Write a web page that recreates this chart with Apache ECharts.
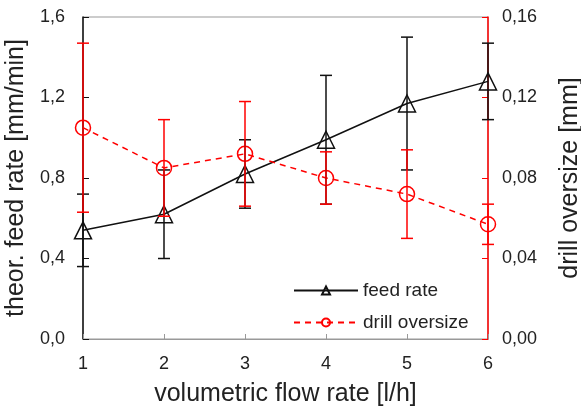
<!DOCTYPE html>
<html>
<head>
  <meta charset="utf-8">
</head>
<body style="margin: 0">
  <div id="container" style="width: 581px; height: 410px"></div>
  <script src="https://fastly.jsdelivr.net/npm/echarts@6.0.0/dist/echarts.min.js"></script>
  <script>
    // volumetric flow rate [l/h]
    var flowRates = [1, 2, 3, 4, 5, 6];
    // theor. feed rate [mm/min] and its error
    var feedRate = [0.54, 0.62, 0.82, 0.99, 1.17, 1.28];
    var feedErr = [0.18, 0.22, 0.17, 0.32, 0.33, 0.19];
    // drill oversize [mm] and its error
    var oversize = [0.105, 0.085, 0.092, 0.080, 0.072, 0.057];
    var oversizeErr = [0.042, 0.024, 0.026, 0.013, 0.022, 0.010];

    var font = 'Liberation Sans, Arial, sans-serif';

    function pairs(ys) {
      return flowRates.map(function (x, i) { return [x, ys[i]]; });
    }
    function errData(ys, errs) {
      return flowRates.map(function (x, i) { return [x, ys[i] - errs[i], ys[i] + errs[i]]; });
    }
    function errRender(color) {
      return function (params, api) {
        var lo = api.coord([api.value(0), api.value(1)]);
        var hi = api.coord([api.value(0), api.value(2)]);
        var w = 6;
        var style = { stroke: color, lineWidth: 1.5 };
        return {
          type: 'group',
          children: [
            { type: 'line', shape: { x1: lo[0], y1: lo[1], x2: hi[0], y2: hi[1] }, style: style },
            { type: 'line', shape: { x1: lo[0] - w, y1: lo[1], x2: lo[0] + w, y2: lo[1] }, style: style },
            { type: 'line', shape: { x1: hi[0] - w, y1: hi[1], x2: hi[0] + w, y2: hi[1] }, style: style }
          ]
        };
      };
    }

    var chart = echarts.init(document.getElementById('container'), null, { renderer: 'canvas' });

    var option = {
      animation: false,
      backgroundColor: '#fff',
      textStyle: { fontFamily: font },
      grid: {
        left: 83, right: 93, top: 17, bottom: 71,
        outerBoundsMode: 'none', containLabel: false,
        show: true, borderColor: '#999', borderWidth: 1
      },
      legend: {
        orient: 'vertical',
        left: 288, top: 276,
        itemWidth: 64, itemHeight: 10, itemGap: 13,
        textStyle: { fontSize: 19, color: '#222', fontFamily: font },
        data: ['feed rate', 'drill oversize']
      },
      xAxis: {
        type: 'value', min: 1, max: 6, interval: 1,
        name: 'volumetric flow rate [l/h]', nameLocation: 'middle', nameGap: 43,
        nameTextStyle: { fontSize: 25, color: '#222' },
        axisLine: { lineStyle: { color: '#999' } },
        axisTick: { inside: true, length: 5, lineStyle: { color: '#999' } },
        axisLabel: { fontSize: 18, color: '#222', margin: 16 },
        splitLine: { show: false }
      },
      yAxis: [
        {
          type: 'value', min: 0, max: 1.6, interval: 0.4,
          name: 'theor. feed rate [mm/min]', nameLocation: 'middle', nameGap: 45,
          nameTextStyle: { fontSize: 25, color: '#222' },
          axisLine: { show: true, onZero: false, lineStyle: { color: '#111', width: 1.5 } },
          axisTick: { inside: true, length: 6, lineStyle: { color: '#111' } },
          axisLabel: { fontSize: 18, color: '#222', margin: 18, formatter: function (v) { return v.toFixed(1).replace('.', ','); } },
          splitLine: { show: false }
        },
        {
          type: 'value', min: 0, max: 0.16, interval: 0.04,
          name: 'drill oversize [mm]', nameLocation: 'middle', nameGap: 70,
          nameTextStyle: { fontSize: 25, color: '#222' },
          axisLine: { show: true, onZero: false, lineStyle: { color: '#f00', width: 1.5 } },
          axisTick: { inside: true, length: 6, lineStyle: { color: '#f00' } },
          axisLabel: { fontSize: 18, color: '#222', margin: 14, formatter: function (v) { return v.toFixed(2).replace('.', ','); } },
          splitLine: { show: false }
        }
      ],
      series: [
        {
          name: 'feed rate', type: 'line', yAxisIndex: 0,
          data: pairs(feedRate),
          symbol: 'triangle', symbolSize: 17,
          lineStyle: { color: '#111', width: 1.5 },
          itemStyle: { color: 'rgba(255,255,255,0)', borderColor: '#111', borderWidth: 1.5 },
          z: 3
        },
        {
          name: 'drill oversize', type: 'line', yAxisIndex: 1,
          data: pairs(oversize),
          symbol: 'circle', symbolSize: 15,
          lineStyle: { color: '#f00', width: 1.5, type: [6, 5] },
          itemStyle: { color: 'rgba(255,255,255,0)', borderColor: '#f00', borderWidth: 1.5 },
          z: 3
        },
        {
          type: 'custom', yAxisIndex: 0,
          data: errData(feedRate, feedErr),
          renderItem: errRender('#111'),
          encode: { x: 0, y: [1, 2] },
          z: 4, silent: true
        },
        {
          type: 'custom', yAxisIndex: 1,
          data: errData(oversize, oversizeErr),
          renderItem: errRender('#f00'),
          encode: { x: 0, y: [1, 2] },
          z: 4, silent: true
        }
      ]
    };

    chart.setOption(option);
  </script>
</body>
</html>
